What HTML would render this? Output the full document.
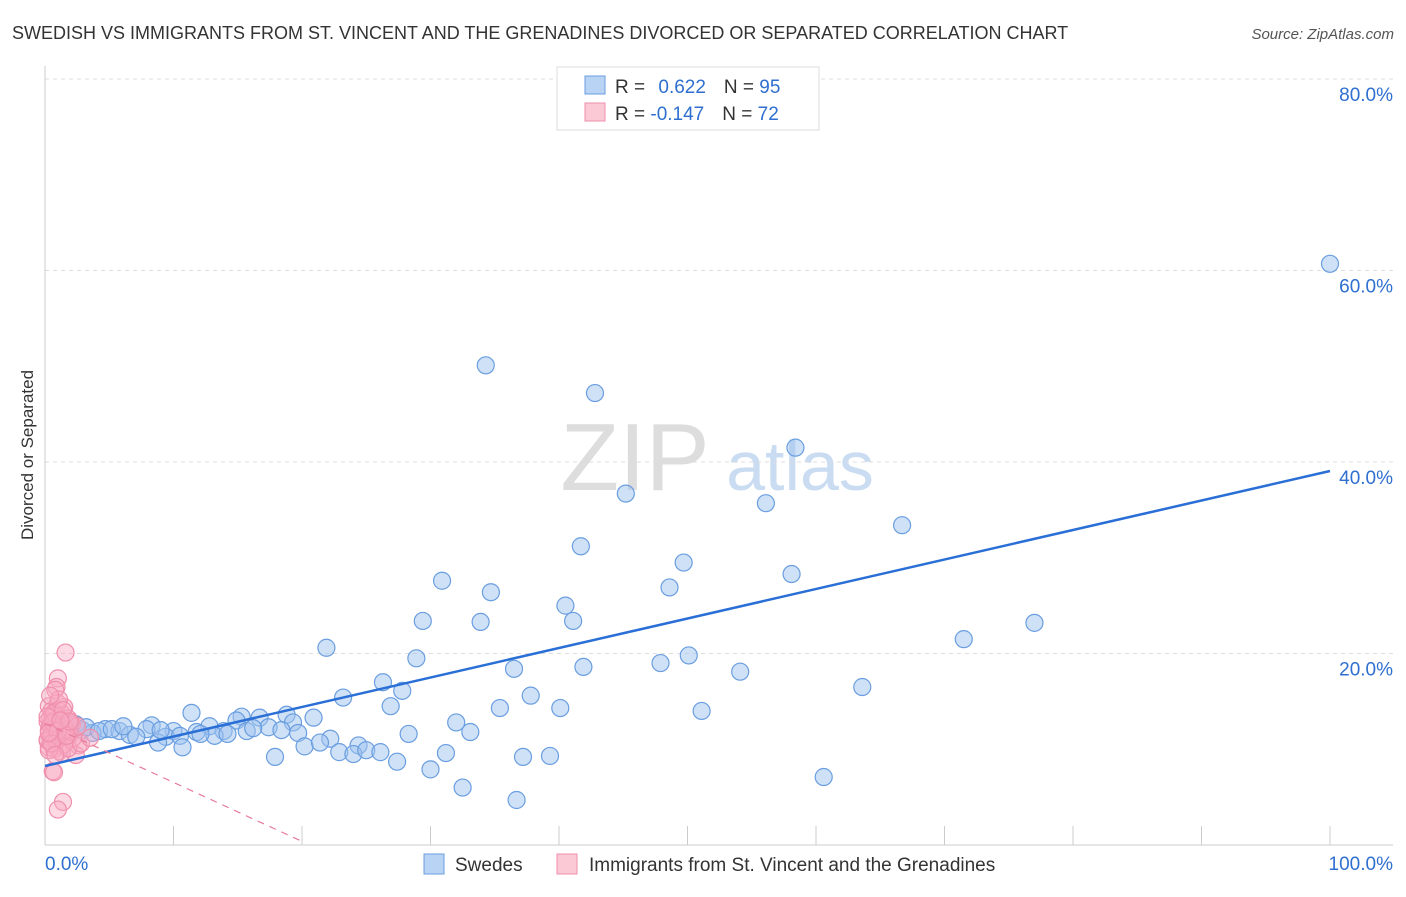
<!DOCTYPE html>
<html><head><meta charset="utf-8"><style>
body{margin:0;background:#fff;font-family:"Liberation Sans",sans-serif}
svg text{font-family:"Liberation Sans",sans-serif}
</style></head><body>
<svg id="chart" width="1406" height="892" xmlns="http://www.w3.org/2000/svg">
<text x="12" y="39" font-size="18" fill="#333">SWEDISH VS IMMIGRANTS FROM ST. VINCENT AND THE GRENADINES DIVORCED OR SEPARATED CORRELATION CHART</text>
<text x="1394" y="39" font-size="15" fill="#555" text-anchor="end" font-style="italic">Source: ZipAtlas.com</text>
<text transform="translate(33,455) rotate(-90)" font-size="17" fill="#333" text-anchor="middle">Divorced or Separated</text>
<g>
<text x="635" y="490" font-size="96" fill="#ddd" font-family="Liberation Serif" text-anchor="middle">ZIP</text>
<text x="800" y="490" font-size="70" fill="#c9dcf2" text-anchor="middle">atlas</text>
</g>
<g id="grid"></g><g id="marks"></g>
<g>
<rect x="557" y="67" width="262" height="63" fill="#fff" stroke="#ddd"/>
<rect x="585" y="76" width="20" height="18" fill="#b9d3f5" stroke="#6a9ee0"/>
<rect x="585" y="103" width="20" height="18" fill="#fbc8d6" stroke="#ef8fab"/>
<text x="615" y="93" font-size="19" fill="#333">R = <tspan fill="#2e6fd0" dx="8">0.622</tspan><tspan dx="18" fill="#333">N = </tspan><tspan fill="#2e6fd0">95</tspan></text>
<text x="615" y="120" font-size="19" fill="#333">R = <tspan fill="#2e6fd0">-0.147</tspan><tspan dx="18" fill="#333">N = </tspan><tspan fill="#2e6fd0">72</tspan></text>
</g>
<g>
<rect x="424" y="854" width="20" height="20" fill="#b9d3f5" stroke="#6a9ee0"/>
<text x="455" y="871" font-size="19" fill="#333">Swedes</text>
<rect x="557" y="854" width="20" height="20" fill="#fbc8d6" stroke="#ef8fab"/>
<text x="589" y="871" font-size="19" fill="#333">Immigrants from St. Vincent and the Grenadines</text>
</g>
</svg>
<script>
const yTicks=[20,40,60,80];
const yTickLabels=["20.0%","40.0%","60.0%","80.0%"];
const xTickLabels=["0.0%","100.0%"];
const blueX=[34.3,42.8,58.4,100,45.2,56.1,66.7,41.7,49.7,58.1,30.9,34.7,48.6,40.5,29.4,33.9,41.1,77.0,71.5,21.9,28.9,50.1,47.9,36.5,41.9,54.1,26.3,27.8,63.6,23.2,37.8,26.9,35.4,40.1,51.1,11.4,18.8,20.9,15.3,16.7,14.9,19.3,32,8.3,12.8,17.4,7.9,4.7,5.8,10,11.8,13.9,15.7,18.4,2.9,3.7,6.6,9.4,10.5,13.2,14.2,19.7,28.3,33.1,22.2,7.1,8.8,10.7,20.2,21.4,24.4,22.9,24.0,25.0,26.1,31.2,17.9,27.4,37.2,39.3,30.0,60.6,32.5,36.7,1.3,1.9,2.4,3.2,4.2,5.2,6.1,9.0,12.1,16.2,0.8];
const blueY=[50.1,47.2,41.5,60.7,36.7,35.7,33.4,31.2,29.5,28.3,27.6,26.4,26.9,25.0,23.4,23.3,23.4,23.2,21.5,20.6,19.5,19.8,19.0,18.4,18.6,18.1,17.0,16.1,16.5,15.4,15.6,14.5,14.3,14.3,14.0,13.8,13.6,13.3,13.4,13.3,13.0,12.8,12.8,12.5,12.4,12.3,12.1,12.1,11.9,11.9,11.8,11.9,11.9,12.0,12.0,11.7,11.5,11.3,11.4,11.4,11.6,11.7,11.6,11.8,11.1,11.3,10.7,10.2,10.3,10.7,10.4,9.7,9.5,9.9,9.7,9.6,9.2,8.7,9.2,9.3,7.9,7.1,6.0,4.7,12.5,12.2,12.6,12.3,11.9,12.1,12.4,12.0,11.6,12.2,12.9];
const pinkX=[1.6,1.0,0.9,0.8,1.4,1.0,2.6,2.4,0.6,0.3,0.5,0.8,1.2,1.5,1.8,2.1,0.4,0.7,1.1,0.2,0.5,0.9,1.3,1.7,2.0,0.3,0.6,1.0,1.4,0.4,0.8,1.2,1.6,0.2,0.5,0.9,1.3,2.2,0.3,0.7,1.1,1.5,1.9,0.4,0.6,1.0,0.2,0.8,1.2,1.6,0.5,0.9,1.3,0.3,0.7,1.1,2.5,1.8,0.4,0.6,1.0,0.2,1.4,1.7,0.5,0.8,2.8,3.5,1.9,0.7,0.3,1.2];
const pinkY=[20.1,17.4,16.5,16.2,4.5,3.7,10.4,9.4,7.7,14.5,14.0,13.6,13.9,14.4,13.2,12.6,13.3,13.0,12.7,12.9,12.4,12.2,12.6,12.1,12.8,12.0,11.8,11.6,11.9,11.3,11.1,11.4,11.7,10.9,10.6,10.8,10.3,11.2,10.2,10.0,9.8,10.5,11.5,12.5,13.5,14.8,11.0,12.3,13.1,12.0,11.5,10.9,9.6,9.9,13.8,15.2,12.4,10.1,15.6,12.8,11.9,13.4,14.1,11.4,10.6,9.4,10.6,11.2,12.9,7.6,11.7,13.0];
const blueTrend=[8.25,39.06];
const pinkTrend=[12.7,0.5,19.8];
const NS="http://www.w3.org/2000/svg";
const X=v=>45+v*12.85, Y=v=>845-v*9.575;
const grid=document.getElementById('grid'),marks=document.getElementById('marks');
function mk(tag,a,p){const e=document.createElementNS(NS,tag);for(const k in a)e.setAttribute(k,a[k]);p.appendChild(e);return e;}
yTicks.forEach((t,i)=>{
 const l=mk('line',{x1:45,x2:1393,y1:Y(t),y2:Y(t),stroke:'#ddd','stroke-dasharray':'4,4'},grid);
 
 
 const tx=mk('text',{x:1393,y:Y(t)+22,'font-size':19,fill:'#2e6fd0','text-anchor':'end'},grid);
 tx.textContent=yTickLabels[i];
 
 
});
const ax=mk('line',{x1:45,x2:1393,y1:845,y2:845,stroke:'#ccc'},grid);


const ay=mk('line',{x1:45,x2:45,y1:66,y2:845,stroke:'#ccc'},grid);


for(let i=1;i<=10;i++){const t=mk('line',{x1:X(i*10),x2:X(i*10),y1:826,y2:845,stroke:'#ccc'},grid);
 
 }
[[0,'start',45],[100,'end',1393]].forEach((d,i)=>{const t=mk('text',{x:d[2],y:870,'font-size':19,fill:'#2e6fd0','text-anchor':d[1]},grid);t.textContent=xTickLabels[i];
 
 });
blueX.forEach((x,i)=>{const c=mk('circle',{cx:X(x),cy:Y(blueY[i]),r:8.5,fill:'rgba(160,196,240,0.5)',stroke:'#6a9ee0','stroke-width':1.2},marks);
 
 });
pinkX.forEach((x,i)=>{const c=mk('circle',{cx:X(x),cy:Y(pinkY[i]),r:8.5,fill:'rgba(248,170,195,0.45)',stroke:'#ef8fab','stroke-width':1.2},marks);
 
 });
const bl=mk('line',{x1:X(0),y1:Y(blueTrend[0]),x2:X(100),y2:Y(blueTrend[1]),stroke:'#2a6fd6','stroke-width':2.5},marks);


const pl=mk('line',{x1:X(0),y1:Y(pinkTrend[0]),x2:X(pinkTrend[2]),y2:Y(pinkTrend[1]),stroke:'#e77a9a','stroke-width':1.2,'stroke-dasharray':'7,6'},marks);


</script>
</body></html>
